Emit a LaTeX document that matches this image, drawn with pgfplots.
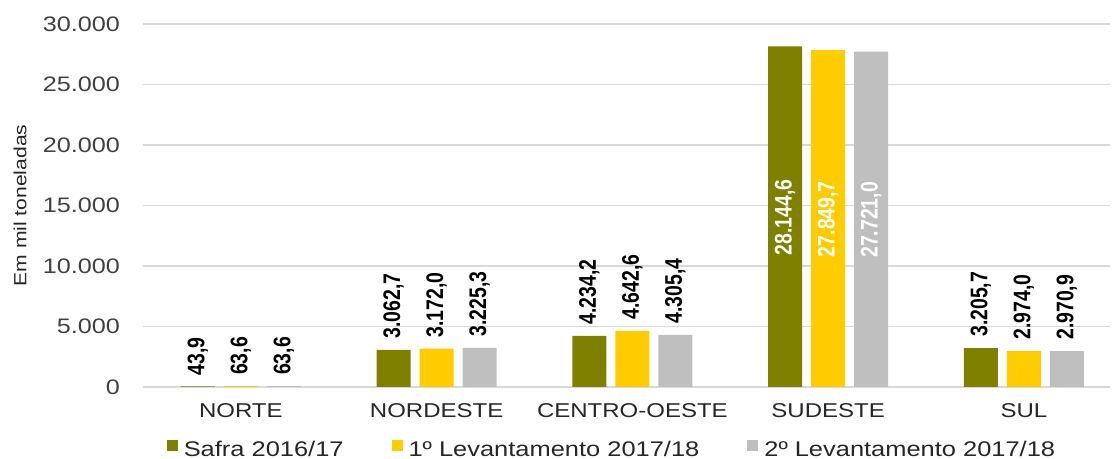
\documentclass[border=0pt]{standalone}
\usepackage{fontspec}
\setmainfont[FakeStretch=1.2]{Liberation Sans}
\newfontfamily\narrowfont[FakeStretch=0.81]{Liberation Sans}
\usepackage{pgfplots}
\pgfplotsset{compat=1.18}
\definecolor{cOlive}{HTML}{808000}
\definecolor{cGold}{HTML}{FFCC00}
\definecolor{cGray}{HTML}{BFBFBF}
\definecolor{cGrid}{HTML}{D9D9D9}
\definecolor{cTick}{HTML}{404040}
\definecolor{cText}{HTML}{262626}
\begin{document}
\begin{tikzpicture}
\begin{axis}[
  name=ax,
  width=483.5pt, height=181.5pt, scale only axis,
  ymin=0, ymax=30000, ytick={0,5000,10000,15000,20000,25000,30000},
  xmin=-0.5, xmax=4.44,
  xtick={0,1,2,3,4},
  xticklabels={NORTE,NORDESTE,CENTRO-OESTE,SUDESTE,SUL},
  scaled y ticks=false,
  axis line style={draw=none},
  major tick length=0pt,
  ymajorgrids, grid style={cGrid, line width=0.8pt},
  /pgf/number format/.cd, use comma, 1000 sep={.}, assume math mode=true,
  /pgfplots/.cd,
  yticklabel style={font=\fontsize{10.5}{12}\selectfont, text=cTick, xshift=-8pt},
  xticklabel style={font=\fontsize{10}{12}\selectfont, text=cText, yshift=-4.5pt},
  ylabel={Em mil toneladas},
  ylabel style={font=\fontsize{8.8}{10}\selectfont, text=cText, at={(axis description cs:-0.1272,0.5)}, anchor=center},
  ybar=4.5pt, bar width=17pt,
  nodes near coords,
  nodes near coords style={
    /pgf/number format/.cd, fixed, fixed zerofill, precision=1, use comma, 1000 sep={.}, assume math mode=true,
    /tikz/.cd, font=\narrowfont\bfseries\fontsize{12}{13}\selectfont,
    rotate=90, anchor=west, inner xsep=5.5pt},
  legend style={at={(axis description cs:0.486,-0.1736)}, anchor=center, draw=none, fill=none,
    legend columns=3, font=\fontsize{10.6}{12}\selectfont, text=cText,
    /tikz/every even column/.append style={column sep=22pt},
    /tikz/every odd column/.append style={column sep=1pt}},
  legend image code/.code={\fill[#1] (0pt,-0.3pt) rectangle (5.5pt,5.2pt);},
]
\addplot[fill=cOlive, draw=none, coordinate style/.condition={x==3}{text=white, yshift=-110.0pt}]
  coordinates {(0,43.9) (1,3062.7) (2,4234.2) (3,28144.6) (4,3205.7)};
\addlegendentry{Safra 2016/17}
\addplot[fill=cGold, draw=none, coordinate style/.condition={x==3}{text=white, yshift=-109.2pt}]
  coordinates {(0,63.6) (1,3172.0) (2,4642.6) (3,27849.7) (4,2974.0)};
\addlegendentry{1º Levantamento 2017/18}
\addplot[fill=cGray, draw=none, coordinate style/.condition={x==3}{text=white, yshift=-108.8pt}]
  coordinates {(0,63.6) (1,3225.3) (2,4305.4) (3,27721.0) (4,2970.9)};
\addlegendentry{2º Levantamento 2017/18}
\end{axis}
\pgfresetboundingbox
\path ([shift={(-71.5pt,-36pt)}]ax.south west) rectangle ([shift={(1pt,12pt)}]ax.north east);
\end{tikzpicture}
\end{document}
